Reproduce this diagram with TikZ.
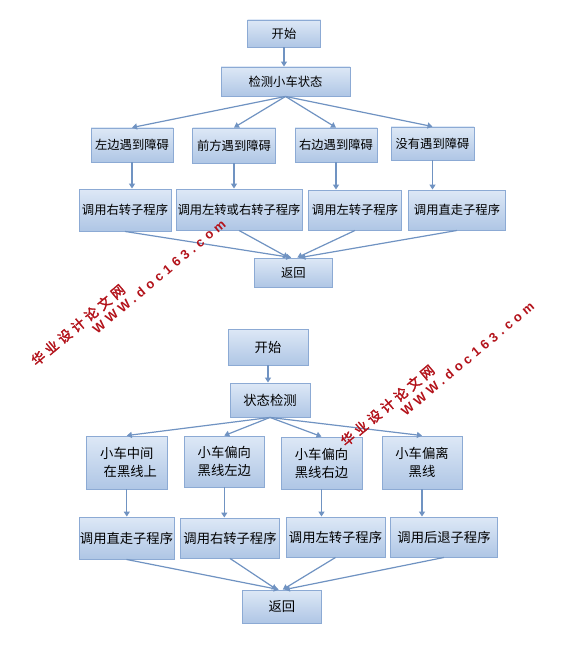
\documentclass[tikz,border=0pt]{standalone}
\usepackage{fontspec}
\newfontfamily\cjk{Noto Sans CJK SC}
\newfontfamily\cjkwm[AutoFakeBold=2.2,LetterSpace=28]{Noto Sans CJK SC}
\newfontfamily\wmlatin[LetterSpace=32]{Liberation Sans}
\usetikzlibrary{arrows.meta,calc}
\definecolor{boxtop}{HTML}{DDE8F6}
\definecolor{boxbot}{HTML}{AFC6E5}
\definecolor{boxline}{HTML}{8CAAD4}
\definecolor{arrcol}{HTML}{7093C2}
\definecolor{wmred}{HTML}{B3121A}
\begin{document}
\begin{tikzpicture}[x=1pt,y=-1pt,
  box/.style={draw=boxline, line width=0.9pt, top color=boxtop, bottom color=boxbot,
    inner sep=0pt, align=center, text=black, font=\cjk\fontsize{12.3}{16}\selectfont},
  boxb/.style={box, font=\cjk\fontsize{13.3}{18}\selectfont},
  arr/.style={draw=arrcol, line width=1.2pt, -{Triangle[width=6pt,length=5pt]}},
  wmc/.style={inner sep=0pt, text=wmred, rotate=40, font=\cjkwm\bfseries\fontsize{13.5}{13.5}\selectfont},
  wml/.style={inner sep=0pt, text=wmred, rotate=40, font=\wmlatin\bfseries\fontsize{13}{13}\selectfont}]
\useasboundingbox (0,0) rectangle (570,671);
\fill[white] (0,0) rectangle (570,671);

% ---------- top diagram ----------
\node[box, minimum width=73pt, minimum height=27pt] (s1) at (284,33.5) {开始};
\node[box, minimum width=129pt, minimum height=29pt] (det1) at (285.5,81.5) {检测小车状态};
\node[box, minimum width=82pt, minimum height=34pt] (a1) at (132,145) {左边遇到障碍};
\node[box, minimum width=83pt, minimum height=35pt] (a2) at (234,145.5) {前方遇到障碍};
\node[box, minimum width=82pt, minimum height=34pt] (a3) at (336,145) {右边遇到障碍};
\node[box, minimum width=83pt, minimum height=33pt] (a4) at (432.5,143.5) {没有遇到障碍};
\node[box, minimum width=92pt, minimum height=42pt] (b1) at (125,210) {调用右转子程序};
\node[box, minimum width=126pt, minimum height=41pt] (b2) at (239,209.5) {调用左转或右转子程序};
\node[box, minimum width=93pt, minimum height=40pt] (b3) at (355,210) {调用左转子程序};
\node[box, minimum width=97pt, minimum height=40pt] (b4) at (457,210) {调用直走子程序};
\node[box, minimum width=77.5pt, minimum height=29pt] (r1) at (293.3,272.5) {返回};

\draw[arr] (s1.south) -- (s1.south |- det1.north);
\foreach \n in {a1,a2,a3,a4} \draw[arr] (det1.south) -- (\n.north);
\draw[arr] (a1.south) -- (a1.south |- b1.north);
\draw[arr] (a2.south) -- (a2.south |- b2.north);
\draw[arr] (a3.south) -- (a3.south |- b3.north);
\draw[arr] (a4.south) -- (a4.south |- b4.north);
\draw[arr] (b1.south) -- ($(r1.north)+(-2,0)$);
\draw[arr] (b2.south) -- ($(r1.north)+(-5,0)$);
\draw[arr] (b3.south) -- ($(r1.north)+(4,0)$);
\draw[arr] (b4.south) -- ($(r1.north)+(7,0)$);

% ---------- bottom diagram ----------
\node[boxb, minimum width=80pt, minimum height=36pt] (s2) at (268,347) {开始};
\node[boxb, minimum width=80pt, minimum height=34pt] (det2) at (270,400) {状态检测};
\node[boxb, minimum width=80.5pt, minimum height=53pt] (c1) at (126.8,462.5) {小车中间\\\hspace*{7pt}在黑线上};
\node[boxb, minimum width=79.5pt, minimum height=51pt] (c2) at (224.3,461.5) {小车偏向\\黑线左边};
\node[boxb, minimum width=81pt, minimum height=52pt] (c3) at (321.5,463) {小车偏向\\黑线右边};
\node[boxb, minimum width=80pt, minimum height=53pt] (c4) at (422,462.5) {小车偏离\\黑线};
\node[boxb, minimum width=95pt, minimum height=42pt] (d1) at (126.5,538) {调用直走子程序};
\node[boxb, minimum width=99pt, minimum height=40pt] (d2) at (230,538) {调用右转子程序};
\node[boxb, minimum width=99pt, minimum height=40pt] (d3) at (335.5,537) {调用左转子程序};
\node[boxb, minimum width=107pt, minimum height=40pt] (d4) at (444,537) {调用后退子程序};
\node[boxb, minimum width=79.5pt, minimum height=33pt] (r2) at (281.8,606.5) {返回};

\draw[arr] (s2.south) -- (s2.south |- det2.north);
\foreach \n in {c1,c2,c3,c4} \draw[arr] (det2.south) -- (\n.north);
\draw[arr] (c1.south) -- (c1.south |- d1.north);
\draw[arr] (c2.south) -- (c2.south |- d2.north);
\draw[arr] (c3.south) -- (c3.south |- d3.north);
\draw[arr] (c4.south) -- (c4.south |- d4.north);
\draw[arr] (d1.south) -- ($(r2.north)+(-3,0)$);
\draw[arr] (d2.south) -- ($(r2.north)+(-5,0)$);
\draw[arr] (d3.south) -- ($(r2.north)+(1,0)$);
\draw[arr] (d4.south) -- ($(r2.north)+(3,0)$);

% ---------- watermarks ----------
\node[wmc] (w1c) at (78,325) {华业设计论文网};
\node[wml] (w1l) at (159,276.5) {WWW.doc163.com};
\node[wmc] (w2c) at (387.5,405.5) {华业设计论文网};
\node[wml] (w2l) at (467.5,359) {WWW.doc163.com};
\end{tikzpicture}
\end{document}
